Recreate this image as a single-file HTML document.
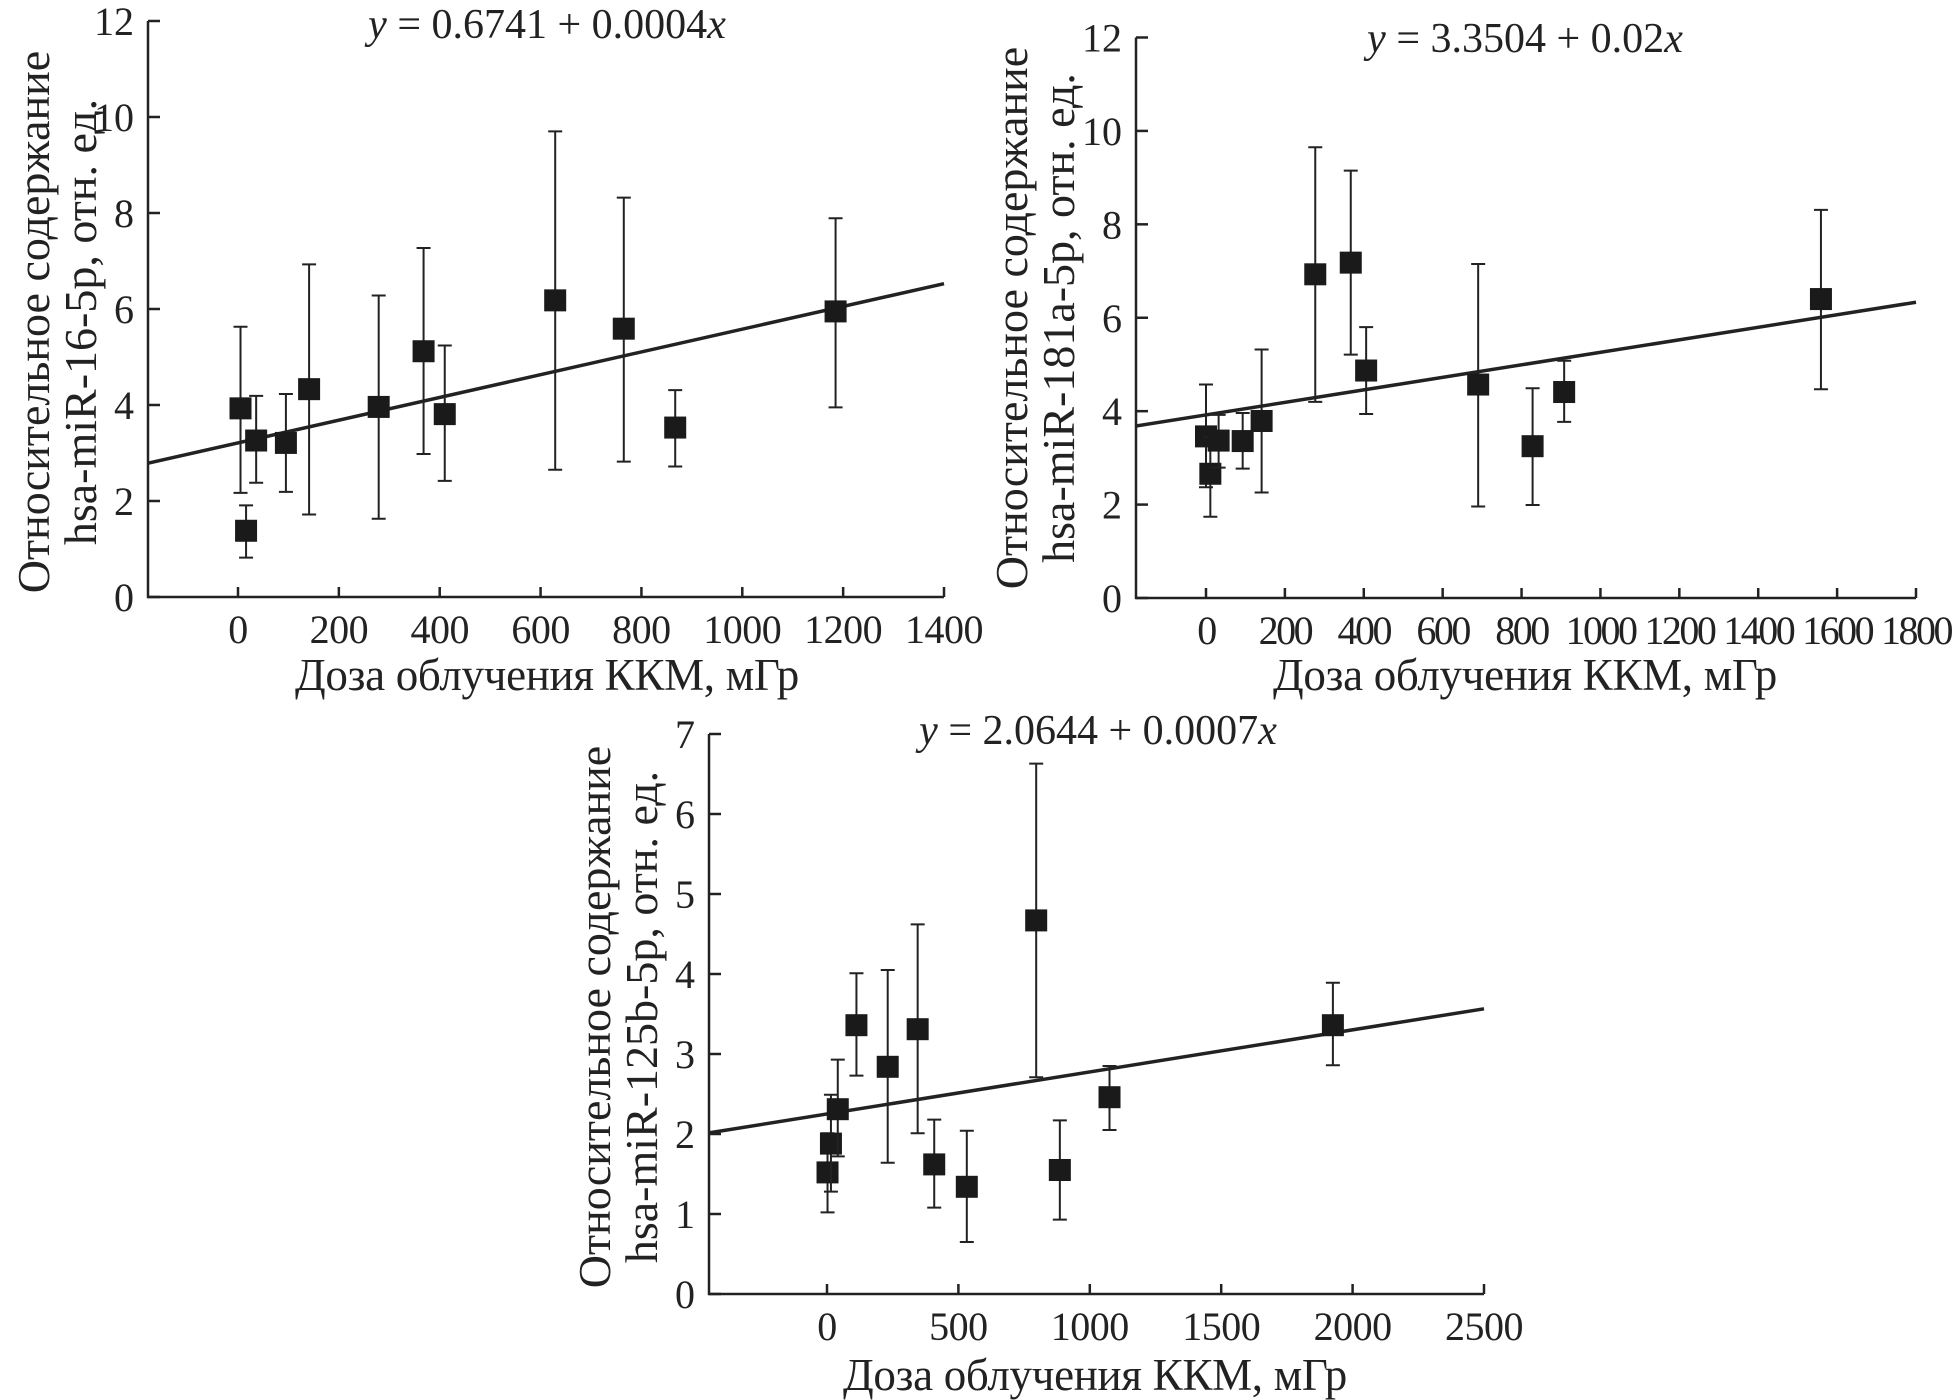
<!DOCTYPE html>
<html><head><meta charset="utf-8">
<style>
html,body{margin:0;padding:0;background:#fff;}
svg{display:block;}
text{font-family:"Liberation Serif",serif;fill:#222;}
</style></head>
<body>
<svg id="fig" width="1953" height="1400" viewBox="0 0 1953 1400" xmlns="http://www.w3.org/2000/svg"></svg>
<script>
// Chart 1: hsa-miR-16-5p
const c1Dose = [5,16,36,95,141,279,368,410,629,765,867,1185];
const c1Value = [3.93,1.38,3.26,3.21,4.33,3.96,5.12,3.81,6.18,5.59,3.53,5.95];
const c1ErrHigh = [5.63,1.91,4.19,4.23,6.93,6.28,7.27,5.24,9.70,8.32,4.31,7.89];
const c1ErrLow = [2.17,0.82,2.38,2.19,1.72,1.63,2.98,2.42,2.65,2.82,2.72,3.95];
const c1Fit = [3.21,0.00237];
const c1XTicks = [0,200,400,600,800,1000,1200,1400];
const c1YTicks = [0,2,4,6,8,10,12];
// Chart 2: hsa-miR-181a-5p
const c2Dose = [0,11,32,93,141,277,367,406,690,828,908,1559];
const c2Value = [3.46,2.66,3.37,3.36,3.79,6.93,7.18,4.87,4.57,3.25,4.41,6.40];
const c2ErrHigh = [4.57,3.44,3.92,3.96,5.32,9.65,9.15,5.80,7.15,4.49,5.08,8.31];
const c2ErrLow = [2.37,1.74,2.79,2.77,2.26,4.20,5.21,3.94,1.96,1.99,3.77,4.47];
const c2Fit = [3.92,0.00134];
const c2XTicks = [0,200,400,600,800,1000,1200,1400,1600,1800];
const c2YTicks = [0,2,4,6,8,10,12];
// Chart 3: hsa-miR-125b-5p
const c3Dose = [2,15,41,112,231,345,408,532,796,886,1075,1925];
const c3Value = [1.52,1.88,2.31,3.36,2.84,3.31,1.62,1.34,4.67,1.55,2.46,3.36];
const c3ErrHigh = [2.01,2.49,2.93,4.01,4.05,4.62,2.18,2.04,6.63,2.17,2.85,3.89];
const c3ErrLow = [1.02,1.28,1.72,2.73,1.64,2.01,1.08,0.65,2.71,0.93,2.05,2.86];
const c3Fit = [2.25,0.000526];
const c3XTicks = [0,500,1000,1500,2000,2500];
const c3YTicks = [0,1,2,3,4,5,6,7];

const NS="http://www.w3.org/2000/svg";
const svg=document.getElementById('fig');
function mk(tag,attrs,parent){const e=document.createElementNS(NS,tag);for(const k in attrs)e.setAttribute(k,attrs[k]);(parent||svg).appendChild(e);return e;}

function chart(cfg){
  const g=mk('g',{});
  
  
  const x0=cfg.x0px, x1=cfg.x1px, xmax=cfg.xTicks[cfg.xTicks.length-1];
  const ymax=cfg.yTicks[cfg.yTicks.length-1];
  const sx=v=>x0+(x1-x0)*v/xmax;
  const sy=v=>cfg.y0px+(cfg.ytop-cfg.y0px)*v/ymax;
  const ax=cfg.axisX;
  const xmin=(ax-x0)/(x1-x0)*xmax;
  const axes=mk('path',{d:`M${ax} ${sy(ymax)} L${ax} ${sy(0)} L${x1} ${sy(0)}`,stroke:'#222','stroke-width':2.5,fill:'none'},g);
  
  
  cfg.yTicks.forEach(t=>{
    const tk=mk('line',{x1:ax,x2:ax+12,y1:sy(t),y2:sy(t),stroke:'#222','stroke-width':2.5},g);
    
    
    const tl=mk('text',{x:ax-14,y:sy(t)+14,'text-anchor':'end','font-size':40},g);
    tl.textContent=t;
    
    
  });
  cfg.xTicks.forEach(t=>{
    const tk=mk('line',{x1:sx(t),x2:sx(t),y1:sy(0),y2:sy(0)-10,stroke:'#222','stroke-width':2.5},g);
    
    
    const tl=mk('text',{x:sx(t),y:sy(0)+46,'text-anchor':'middle','font-size':40,'letter-spacing':cfg.tickLS},g);
    tl.textContent=t;
    
    
  });
  const fit=mk('line',{x1:ax,y1:sy(cfg.fit[0]+cfg.fit[1]*xmin),x2:x1,y2:sy(cfg.fit[0]+cfg.fit[1]*xmax),stroke:'#222','stroke-width':3.5},g);
  
  
  cfg.dose.forEach((d,i)=>{
    const px=sx(d);
    const eb=mk('path',{d:`M${px} ${sy(cfg.hi[i])} V${sy(cfg.lo[i])} M${px-7} ${sy(cfg.hi[i])} H${px+7} M${px-7} ${sy(cfg.lo[i])} H${px+7}`,stroke:'#222','stroke-width':2,fill:'none'},g);
    
    
    const pt=mk('rect',{x:px-11,y:sy(cfg.val[i])-11,width:22,height:22,fill:'#1a1a1a'},g);
    
    
  });
  const eq=mk('text',{x:cfg.eqX,y:cfg.eqY,'text-anchor':'middle','font-size':42},g);
  eq.innerHTML='<tspan font-style="italic">y</tspan> = '+cfg.eq+'<tspan font-style="italic">x</tspan>';
  
  
  const xt=mk('text',{x:cfg.xtX,y:cfg.xtY,'text-anchor':'middle','font-size':45,'letter-spacing':-0.3},g);
  xt.textContent='Доза облучения ККМ, мГр';
  
  
  const yt=mk('text',{transform:`translate(${cfg.ytX},${cfg.ytY}) rotate(-90)`,'text-anchor':'middle','font-size':46},g);
  
  
  const l1=mk('tspan',{x:0,y:0},yt);l1.textContent='Относительное содержание';
  const l2=mk('tspan',{x:0,y:47},yt);l2.textContent=cfg.gene+', отн. ед.';
}

chart({name:'chart-mir-16',axisX:148,x0px:238,x1px:944,y0px:597,ytop:21,xTicks:c1XTicks,yTicks:c1YTicks,tickLS:-0.5,
  dose:c1Dose,val:c1Value,hi:c1ErrHigh,lo:c1ErrLow,fit:c1Fit,eq:'0.6741 + 0.0004',eqX:547,eqY:38,
  xtX:547,xtY:690,ytX:49,ytY:322,gene:'hsa-miR-16-5p'});
chart({name:'chart-mir-181a',axisX:1136,x0px:1206,x1px:1916,y0px:598,ytop:37.5,xTicks:c2XTicks,yTicks:c2YTicks,tickLS:-2.5,
  dose:c2Dose,val:c2Value,hi:c2ErrHigh,lo:c2ErrLow,fit:c2Fit,eq:'3.3504 + 0.02',eqX:1525,eqY:52,
  xtX:1525,xtY:690,ytX:1027,ytY:318,gene:'hsa-miR-181a-5p'});
chart({name:'chart-mir-125b',axisX:709,x0px:827,x1px:1484,y0px:1294,ytop:734,xTicks:c3XTicks,yTicks:c3YTicks,tickLS:-0.5,
  dose:c3Dose,val:c3Value,hi:c3ErrHigh,lo:c3ErrLow,fit:c3Fit,eq:'2.0644 + 0.0007',eqX:1098,eqY:744,
  xtX:1095,xtY:1390,ytX:610,ytY:1017,gene:'hsa-miR-125b-5p'});
</script>
</body></html>
